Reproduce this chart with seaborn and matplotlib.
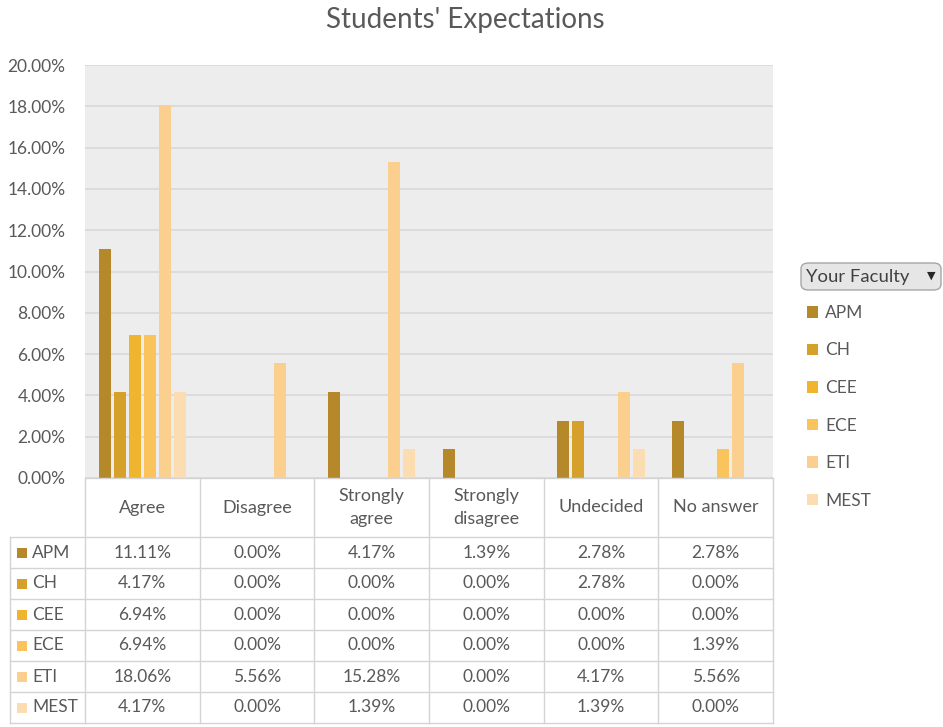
import matplotlib
matplotlib.use("Agg")
import matplotlib.pyplot as plt
import matplotlib.transforms as mtransforms
from matplotlib.patches import FancyBboxPatch, Rectangle
from matplotlib.lines import Line2D
import seaborn as sns
import pandas as pd

# ---------------- data ----------------
categories = ["Agree", "Disagree", "Strongly agree", "Strongly disagree", "Undecided", "No answer"]
header_labels = ["Agree", "Disagree", "Strongly\nagree", "Strongly\ndisagree", "Undecided", "No answer"]
faculties = ["APM", "CH", "CEE", "ECE", "ETI", "MEST"]
apm = [11.11, 0.00, 4.17, 1.39, 2.78, 2.78]
ch = [4.17, 0.00, 0.00, 0.00, 2.78, 0.00]
cee = [6.94, 0.00, 0.00, 0.00, 0.00, 0.00]
ece = [6.94, 0.00, 0.00, 0.00, 0.00, 1.39]
eti = [18.06, 5.56, 15.28, 0.00, 4.17, 5.56]
mest = [4.17, 0.00, 1.39, 0.00, 1.39, 0.00]
yticks = [0, 2, 4, 6, 8, 10, 12, 14, 16, 18, 20]
colors = ["#B5892A", "#D5A12B", "#F0B52F", "#FBC35C", "#FBCF8D", "#FCDDB2"]
title = "Students' Expectations"
legend_title = "Your Faculty"

series = [apm, ch, cee, ece, eti, mest]
rows = []
for fac, vals in zip(faculties, series):
    for cat, v in zip(categories, vals):
        rows.append({"Category": cat, "Faculty": fac, "Value": v})
df = pd.DataFrame(rows)

# ---------------- figure ----------------
W, H = 943, 727
fig = plt.figure(figsize=(W / 100, H / 100), dpi=100)
plt.rcParams["font.family"] = ["Lato", "DejaVu Sans"]
TXT = "#595959"
GRID = "#D9D9D9"
LINE = "#D4D4D4"
FS = 12.5

def fx(px):
    return px / W

def fy(py):
    return 1 - py / H

ax_l, ax_r, ax_t, ax_b = 85, 773, 65, 478
ax = fig.add_axes([fx(ax_l), fy(ax_b), fx(ax_r) - fx(ax_l), fy(ax_t) - fy(ax_b)])

sns.barplot(data=df, x="Category", y="Value", hue="Faculty", order=categories,
            hue_order=faculties, palette=colors, width=0.785, gap=0.2,
            saturation=1, ax=ax, errorbar=None, edgecolor="none", linewidth=0)

ax.set_facecolor("#EDEDED")
ax.set_ylim(0, 20)
ax.set_xlim(-0.5, len(categories) - 0.5)
ax.set_yticks(yticks)
ax.set_yticklabels([f"{t:.2f}%" for t in yticks], fontsize=FS, color=TXT)
ax.tick_params(axis="y", length=0, pad=14)
ax.tick_params(axis="x", length=0, labelbottom=False)
ax.set_xlabel("")
ax.set_ylabel("")
ax.grid(axis="y", color=GRID, linewidth=1.2)
ax.set_axisbelow(True)
for s in ax.spines.values():
    s.set_visible(False)

handles, labels = ax.get_legend_handles_labels()
ax.legend(handles, labels, loc="upper left", bbox_to_anchor=(fx(800), fy(298)),
          bbox_transform=fig.transFigure, frameon=False, fontsize=FS,
          handlelength=0.65, handleheight=0.65, handletextpad=0.4,
          labelspacing=1.24, borderaxespad=0, labelcolor=TXT)

# legend title button
btn = FancyBboxPatch((fx(801), fy(290)), fx(941) - fx(801), fy(263) - fy(290),
                     boxstyle="round,pad=0,rounding_size=0.008", transform=fig.transFigure,
                     facecolor="#E6E6E6", edgecolor="#A6A6A6", linewidth=1)
fig.patches.append(btn)
fig.text(fx(806), fy(277), legend_title, fontsize=13.3, color="#404040", va="center", ha="left")
fig.text(fx(931), fy(276), "\u25BC", fontsize=8, color="#262626", va="center", ha="center",
         family=["DejaVu Sans"])

# title
fig.text(fx(465), fy(20), title, fontsize=20, color=TXT, ha="center", va="center")

# ---------------- data table ----------------
trans = mtransforms.blended_transform_factory(ax.transData, fig.transFigure)
header_top, header_bot = 478, 537
row_h = 31
n = len(categories)
x_left_px = 10

# horizontal lines
fig.add_artist(Line2D([-0.5, n - 0.5], [fy(header_top)] * 2, transform=trans, color=LINE, lw=1))
for i in range(len(faculties) + 1):
    y = fy(header_bot + i * row_h)
    fig.add_artist(Line2D([fx(x_left_px), fx(ax_r)], [y, y], transform=fig.transFigure,
                          color=LINE, lw=1))
# vertical lines
for b in range(n + 1):
    fig.add_artist(Line2D([b - 0.5, b - 0.5], [fy(header_top), fy(header_bot + 6 * row_h)],
                          transform=trans, color=LINE, lw=1))
fig.add_artist(Line2D([fx(x_left_px)] * 2, [fy(header_bot), fy(header_bot + 6 * row_h)],
                      transform=fig.transFigure, color=LINE, lw=1))

# header text
for i, lab in enumerate(header_labels):
    fig.text(i, fy((header_top + header_bot) / 2), lab, transform=trans, ha="center",
             va="center", fontsize=13, color=TXT, linespacing=1.6)

# rows
for r, (fac, vals, col) in enumerate(zip(faculties, series, colors)):
    yc = header_bot + r * row_h + row_h / 2
    fig.patches.append(Rectangle((fx(17), fy(yc + 5)), fx(10), fy(yc - 5) - fy(yc + 5),
                                 transform=fig.transFigure, facecolor=col, edgecolor="none"))
    fig.text(fx(32), fy(yc), fac, fontsize=FS, color=TXT, ha="left", va="center")
    for i, v in enumerate(vals):
        fig.text(i, fy(yc), f"{v:.2f}%", transform=trans, ha="center", va="center",
                 fontsize=FS, color=TXT)

fig.savefig("out.png", dpi=100, facecolor="white")
